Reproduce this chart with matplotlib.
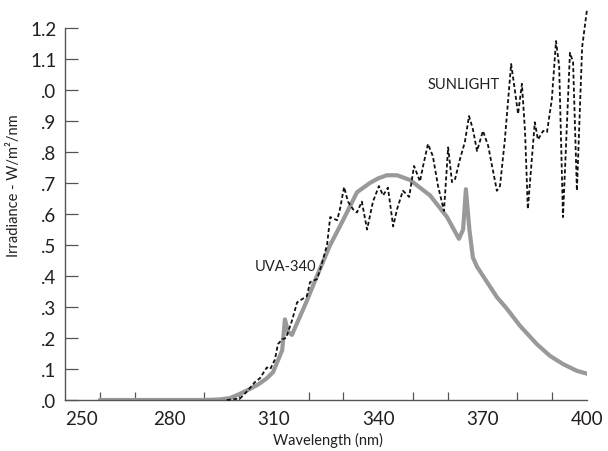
import matplotlib
matplotlib.use("Agg")
import matplotlib.pyplot as plt

plt.rcParams['font.family'] = ['Lato', 'DejaVu Sans']

# UVA-340 lamp spectrum (gray solid)
uva_wl = [260, 290, 294.5, 297.4, 300.3, 303, 305.5, 308, 309.8, 310.9, 312.4, 313.2,
          314.1, 315.2, 319.5, 322.4, 326.2, 329.9, 333.9, 337.6, 340, 342.5, 345.4,
          349.1, 354.9, 359.8, 363.2, 364.4, 365.2, 366.2, 367.2, 368.4, 371.3, 374.1,
          377, 380.7, 385.6, 389.4, 393.1, 397.1, 400.3]
uva_val = [0.0, 0.0, 0.002, 0.006, 0.02, 0.035, 0.05, 0.07, 0.09, 0.12, 0.16, 0.26,
           0.22, 0.21, 0.32, 0.40, 0.50, 0.58, 0.67, 0.70, 0.715, 0.725, 0.725,
           0.71, 0.66, 0.59, 0.52, 0.55, 0.68, 0.55, 0.46, 0.43, 0.38, 0.332,
           0.294, 0.24, 0.18, 0.142, 0.116, 0.094, 0.084]

# Sunlight spectrum (black dashed)
sun_wl = [296.5, 300.3, 302.5, 304.6, 306, 308, 309, 310.3, 311.2, 312.4, 313.5, 315.2,
          316.7, 318.1, 319.5, 320.4, 322.4, 323.3, 325.3, 326.2, 328.2, 329, 330.2,
          331.3, 332.8, 333.9, 335.3, 336.8, 338.5, 340.2, 341.4, 342.8, 344.3, 345.4,
          347.1, 348.9, 350.3, 352, 352.9, 354.3, 355.7, 357.2, 358.9, 360.1, 361.2,
          362.1, 363.5, 364.9, 366.1, 367.2, 368.4, 370.1, 371.6, 374.1, 375, 376.4,
          378.2, 378.7, 380.2, 381.3, 382.2, 383, 385, 385.9, 387.4, 388.5, 389.9,
          391.1, 392, 393.1, 395.1, 396, 397.1, 398.6, 400]
sun_val = [0.0, 0.005, 0.03, 0.058, 0.07, 0.105, 0.10, 0.13, 0.18, 0.196, 0.20, 0.255,
           0.315, 0.325, 0.335, 0.38, 0.39, 0.42, 0.50, 0.59, 0.58, 0.615, 0.687,
           0.64, 0.615, 0.605, 0.64, 0.55, 0.64, 0.69, 0.66, 0.685, 0.56, 0.615,
           0.675, 0.655, 0.755, 0.705, 0.755, 0.826, 0.787, 0.69, 0.61, 0.815, 0.703,
           0.713, 0.777, 0.832, 0.916, 0.874, 0.803, 0.868, 0.82, 0.675, 0.69, 0.84,
           1.084, 1.045, 0.923, 1.02, 0.864, 0.616, 0.896, 0.84, 0.868, 0.864, 0.97,
           1.158, 1.077, 0.59, 1.12, 1.09, 0.675, 1.138, 1.26]

x_ticks = [260, 270, 280, 290, 300, 310, 320, 330, 340, 350, 360, 370, 380, 390, 400]
x_labels = ['250', '280', '310', '340', '370', '400']
x_label_pos = [250, 280, 310, 340, 370, 400]
y_ticks = [0.0, 0.1, 0.2, 0.3, 0.4, 0.5, 0.6, 0.7, 0.8, 0.9, 1.0, 1.1, 1.2]
y_labels = ['.0', '.1', '.2', '.3', '.4', '.5', '.6', '.7', '.8', '.9', '.0', '1.1', '1.2']

txt = '#231f20'
fig = plt.figure(figsize=(6.08, 4.52), dpi=100)
ax = fig.add_axes([65/608, 51/452, 522/608, 372/452])

ax.plot(uva_wl, uva_val, color='#999999', lw=3.0, solid_joinstyle='round',
        solid_capstyle='round', zorder=2)
ax.plot(sun_wl, sun_val, color='#111111', lw=1.3, linestyle=(0, (2.2, 1.4)),
        zorder=3, clip_on=False)

ax.set_xlim(250, 400)
ax.set_ylim(0, 1.2)
for s in ['top', 'right']:
    ax.spines[s].set_visible(False)
for s in ['left', 'bottom']:
    ax.spines[s].set_color('#555555')
    ax.spines[s].set_linewidth(1.0)

# minor-style ticks every 10 nm without labels
ax.set_xticks(x_ticks, minor=True)
ax.set_xticks(x_label_pos)
ax.set_xticklabels(x_labels)
ax.tick_params(axis='x', which='both', direction='in', length=5.8, width=0.9,
               color='#555555', pad=7, labelsize=13.5, labelcolor=txt)
ax.tick_params(axis='x', which='major', length=0)
ax.get_xticklabels()[0].set_ha('left')
ax.get_xticklabels()[0].set_x(250)

ax.set_yticks(y_ticks)
ax.set_yticklabels(y_labels)
ax.tick_params(axis='y', direction='in', length=9.4, width=0.9, color='#555555',
               pad=6, labelsize=13.5, labelcolor=txt)

xl = ax.set_xlabel('Wavelength (nm)', fontsize=10.5, color=txt)
xl.set_va('center')
ax.xaxis.set_label_coords(0.503, -0.105)
yl = ax.set_ylabel('Irradiance - W/m²/nm', fontsize=10.5, color=txt)
yl.set_va('center')
ax.yaxis.set_label_coords(-0.098, 0.58)

ax.text(354.3, 1.019, 'SUNLIGHT', fontsize=10.5, color=txt, ha='left', va='center')
ax.text(304.6, 0.432, 'UVA-340', fontsize=10.5, color=txt, ha='left', va='center')

fig.savefig('out.png', dpi=100)
